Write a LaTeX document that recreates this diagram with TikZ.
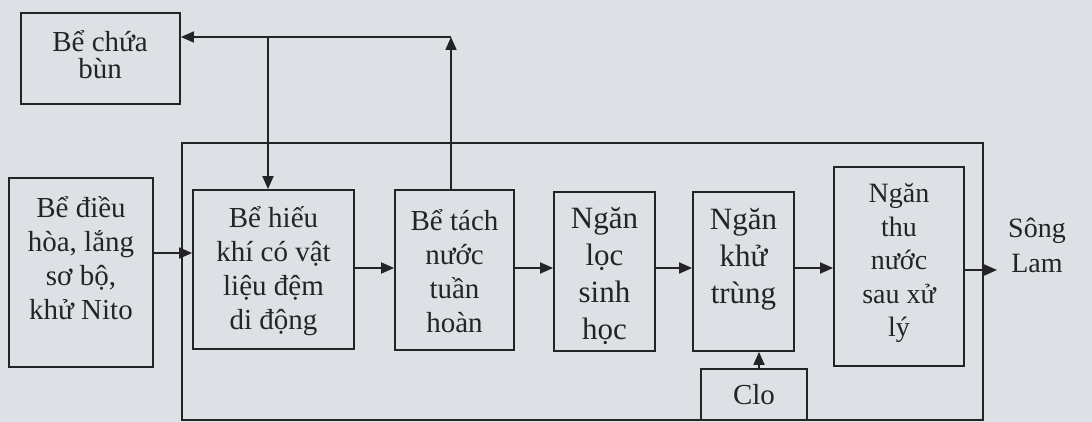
\documentclass[tikz,border=0pt]{standalone}
\usepackage{fontspec}
\setmainfont{Liberation Serif}
\usetikzlibrary{arrows.meta}
\definecolor{paper}{RGB}{221,225,229}
\definecolor{ink}{RGB}{36,36,38}

\begin{document}
\begin{tikzpicture}[x=0.5pt,y=-0.5pt,
  box/.style={draw=ink, line width=0.9pt, rectangle, inner sep=0pt},
  txt/.style={text=ink, align=center, inner sep=0pt, font=\fontsize{14.5}{17}\selectfont},
  bigtxt/.style={txt, font=\fontsize{15.5}{18.5}\selectfont},
  flow/.style={draw=ink, line width=0.9pt, -{Triangle[length=6.5pt,width=5.5pt]}}]

  % paper and page size
  \fill[paper] (0,0) rectangle (1092,422);
  \useasboundingbox (0,0) rectangle (1092,422);

  % outer frame of the treatment unit
  \node[box, minimum width=400.5pt, minimum height=138.5pt] (frame) at (582.5,281.5) {};

  % process tanks
  \node[box, minimum width=79.5pt, minimum height=45.5pt] (chua) at (100.5,58.5) {};
  \node[box, minimum width=72pt,   minimum height=94.5pt] (dieu) at (81,272.5) {};
  \node[box, minimum width=80.5pt, minimum height=79.5pt] (hieu) at (273.5,269.5) {};
  \node[box, minimum width=59.5pt, minimum height=80pt]   (tach) at (454.5,270) {};
  \node[box, minimum width=50.5pt, minimum height=79.5pt] (loc)  at (604.5,271.5) {};
  \node[box, minimum width=50.5pt, minimum height=79.5pt] (khu)  at (743.5,271.5) {};
  \node[box, minimum width=65pt,   minimum height=99.5pt] (thu)  at (899,266.5) {};
  \node[box, minimum width=53pt,   minimum height=25.5pt] (clo)  at (754,394.5) {};

  % labels
  \node[txt, font=\fontsize{14.5}{13.5}\selectfont] (chua-t) at (100,55) {Bể chứa\\bùn};
  \node[txt] (dieu-t) at (81,258) {Bể điều\\hòa, lắng\\sơ bộ,\\khử Nito};
  \node[txt] (hieu-t) at (273.5,271) {Bể hiếu\\khí có vật\\liệu đệm\\di động};
  \node[txt] (tach-t) at (454.5,271) {Bể tách\\nước\\tuần\\hoàn};
  \node[bigtxt] (loc-t) at (604.5,276) {Ngăn\\lọc\\sinh\\học};
  \node[bigtxt] (khu-t) at (743.5,259) {Ngăn\\khử\\trùng};
  \node[txt, font=\fontsize{14}{16.75}\selectfont] (thu-t) at (899,263) {Ngăn\\thu\\nước\\sau xử\\lý};
  \node[txt] (clo-t) at (754,395) {Clo};
  \node[txt, font=\fontsize{14}{17.5}\selectfont] (song) at (1037,245) {Sông\\Lam};

  % helper points
  \coordinate (y1) at (0,253);
  \coordinate (ym) at (0,268);
  \coordinate (out) at (997,270);
  \coordinate (c1) at (451,37);
  \coordinate (c2) at (268,37);
  \coordinate (cx) at (759,0);

  % main flow
  \draw[flow] (dieu.east |- y1) -- (hieu.west |- y1);
  \draw[flow] (hieu.east |- ym) -- (tach.west |- ym);
  \draw[flow] (tach.east |- ym) -- (loc.west |- ym);
  \draw[flow] (loc.east |- ym) -- (khu.west |- ym);
  \draw[flow] (khu.east |- ym) -- (thu.west |- ym);
  \draw[flow] (thu.east |- out) -- (out);

  % sludge line and return
  \draw[flow] (tach.north -| c1) -- (c1);
  \draw[flow] (c1) -- (c1 -| chua.east);
  \draw[flow] (c2) -- (c2 |- hieu.north);

  % chlorine dosing
  \draw[flow] (clo.north -| cx) -- (khu.south -| cx);
\end{tikzpicture}
\end{document}
